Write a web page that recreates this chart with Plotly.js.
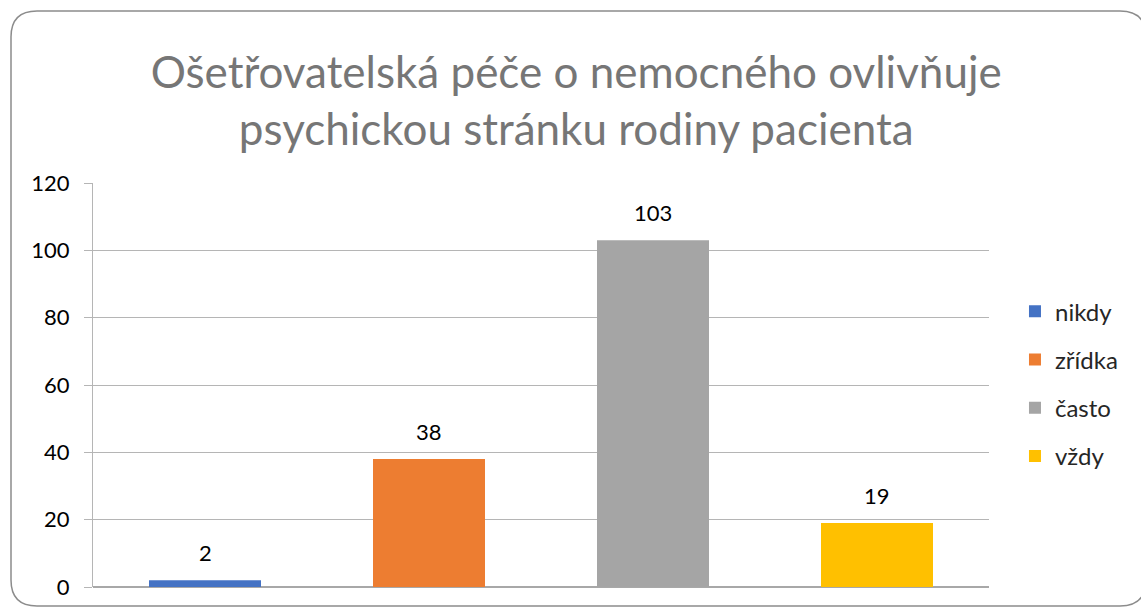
<!DOCTYPE html>
<html><head><meta charset="utf-8">
<script src="https://cdn.plot.ly/plotly-3.0.1.min.js"></script>
<style>html,body{margin:0;padding:0;background:#fff;}#chart{width:1141px;height:608px;}</style>
</head><body><div id="chart"></div>
<script>
const categories = ["nikdy", "zřídka", "často", "vždy"];
const values = [2, 38, 103, 19];
const colors = ["#4472C4", "#ED7D31", "#A5A5A5", "#FFC000"];
const yTicks = [0, 20, 40, 60, 80, 100, 120];
const titleText = "Ošetřovatelská péče o nemocného ovlivňuje<br>psychickou stránku rodiny pacienta";

const W = 1141, H = 608;
const M = {l: 93, r: 152, t: 183, b: 21};
const PW = W - M.l - M.r, PH = H - M.t - M.b;
const px = x => (x - M.l) / PW;
const py = y => (H - M.b - y) / PH;

const traces = categories.map((c, i) => ({
  type: "bar", name: c, x: [c], y: [values[i]],
  marker: {color: colors[i]}, width: 0.5,
  legendgroup: c, hoverinfo: "name+y"
}));

const annotations = categories.map((c, i) => ({
  x: c, y: values[i], xref: "x", yref: "y", text: String(values[i]),
  showarrow: false, yanchor: "bottom", yshift: 12,
  font: {family: "Lato, 'Noto Sans', sans-serif", size: 22, color: "#000"}
}));

// rounded frame
const L = 11, T = 11, R = 1146, B = 606, rad = 26;
const framePath = [
  `M ${px(L+rad)},${py(T)}`,
  `L ${px(R-rad)},${py(T)}`,
  `Q ${px(R)},${py(T)} ${px(R)},${py(T+rad)}`,
  `L ${px(R)},${py(B-rad)}`,
  `Q ${px(R)},${py(B)} ${px(R-rad)},${py(B)}`,
  `L ${px(L+rad)},${py(B)}`,
  `Q ${px(L)},${py(B)} ${px(L)},${py(B-rad)}`,
  `L ${px(L)},${py(T+rad)}`,
  `Q ${px(L)},${py(T)} ${px(L+rad)},${py(T)} Z`
].join(" ");

const layout = {
  width: W, height: H,
  margin: M,
  paper_bgcolor: "#fff", plot_bgcolor: "#fff",
  barmode: "overlay",
  showlegend: true,
  title: {
    text: titleText, x: 0.505, xanchor: "center", y: 1 - 88/H, yanchor: "top",
    font: {family: "Lato, 'Noto Sans', sans-serif", size: 44, color: "#767676"}
  },
  xaxis: {
    type: "category", categoryarray: categories, showticklabels: false,
    showgrid: false, zeroline: false, showline: false, ticks: "", fixedrange: true
  },
  yaxis: {
    range: [0, 120], tickvals: yTicks, ticktext: yTicks.map(String),
    showgrid: true, gridcolor: "#b5b5b5", gridwidth: 1,
    zeroline: true, zerolinecolor: "#a8a8a8", zerolinewidth: 1.5,
    showline: true, linecolor: "#b5b5b5", linewidth: 1,
    ticks: "outside", ticklen: 8, tickcolor: "#b5b5b5",
    ticklabelstandoff: 10,
    tickfont: {family: "Lato, 'Noto Sans', sans-serif", size: 22, color: "#000"},
    fixedrange: true
  },
  legend: {
    x: 1.029, xanchor: "left", y: 0.737, yanchor: "top",
    traceorder: "grouped", tracegroupgap: 14,
    font: {family: "Lato, 'Noto Sans', sans-serif", size: 24, color: "#262626"},
    itemwidth: 30, bgcolor: "rgba(0,0,0,0)"
  },
  annotations: annotations,
  shapes: [{
    type: "path", path: framePath, xref: "paper", yref: "paper",
    line: {color: "#8c8c8c", width: 1.5}, fillcolor: "rgba(0,0,0,0)", layer: "below"
  }]
};

Plotly.newPlot("chart", traces, layout, {displayModeBar: false, staticPlot: true});
</script></body></html>
